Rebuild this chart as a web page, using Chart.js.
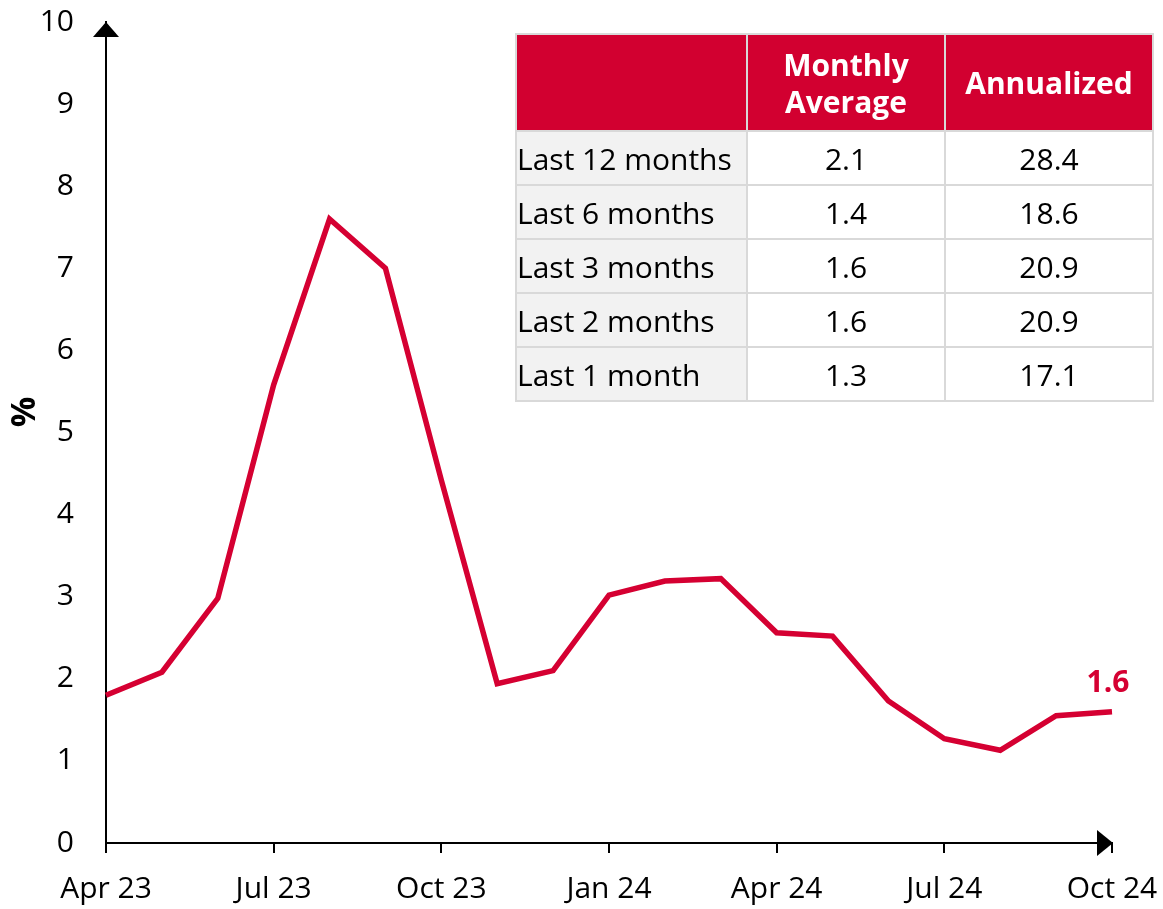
<!DOCTYPE html>
<html>
<head>
<meta charset="utf-8">
<script src="https://cdn.jsdelivr.net/npm/chart.js@4"></script>
<style>
  body { margin: 0; background: #fff; font-family: "Open Sans", sans-serif; }
  #wrap { position: relative; width: 1163px; height: 909px; }
  #stats {
    position: absolute; left: 515px; top: 33px; width: 637px;
    border-collapse: collapse; table-layout: fixed; font-size: 30px; color: #000;
  }
  #stats td, #stats th { border: 2px solid #d9d9d9; padding: 0; }
  #stats th { background: #d20030; color: #fff; font-weight: 700; height: 95px; line-height: 37px; }
  #stats td { height: 52px; text-align: center; background: #fff; }
  #stats td.lbl { text-align: left; background: #f2f2f2; padding-left: 0; }
</style>
</head>
<body>
<div id="wrap">
  <canvas id="cpiChart"></canvas>
  <table id="stats">
    <colgroup><col style="width:231px"><col style="width:198px"><col style="width:208px"></colgroup>
    <thead><tr id="headRow"></tr></thead>
    <tbody id="statsBody"></tbody>
  </table>
</div>
<script>
const months = ["Apr 23", "May 23", "Jun 23", "Jul 23", "Aug 23", "Sep 23", "Oct 23", "Nov 23", "Dec 23",
  "Jan 24", "Feb 24", "Mar 24", "Apr 24", "May 24", "Jun 24", "Jul 24", "Aug 24", "Sep 24", "Oct 24"];
const monthlyRate = [1.80, 2.08, 2.98, 5.58, 7.60, 7.00, 4.42, 1.94, 2.10,
  3.02, 3.19, 3.22, 2.56, 2.52, 1.73, 1.27, 1.13, 1.55, 1.60];
const yTicks = [0, 1, 2, 3, 4, 5, 6, 7, 8, 9, 10];
const lastLabel = "1.6";

// table data
const tableHeaders = ["", "Monthly<br>Average", "Annualized"];
const periods = ["Last 12 months", "Last 6 months", "Last 3 months", "Last 2 months", "Last 1 month"];
const monthlyAvg = ["2.1", "1.4", "1.6", "1.6", "1.3"];
const annualized = ["28.4", "18.6", "20.9", "20.9", "17.1"];

const red = "#d50032";
const font = "'Open Sans', sans-serif";

document.getElementById("headRow").innerHTML = tableHeaders.map(h => `<th>${h}</th>`).join("");
document.getElementById("statsBody").innerHTML = periods.map((p, i) =>
  `<tr><td class="lbl">${p}</td><td>${monthlyAvg[i]}</td><td>${annualized[i]}</td></tr>`).join("");

// arrows on axes, % title and end label
const extras = {
  id: "extras",
  afterDraw(chart) {
    const c = chart.ctx;
    const a = chart.chartArea;
    c.save();
    c.fillStyle = "#000";
    c.beginPath();
    c.moveTo(a.left, a.top);
    c.lineTo(a.left - 13, a.top + 15);
    c.lineTo(a.left + 13, a.top + 15);
    c.closePath();
    c.fill();
    c.beginPath();
    c.moveTo(a.right + 1, a.bottom);
    c.lineTo(a.right - 15, a.bottom - 13);
    c.lineTo(a.right - 15, a.bottom + 13);
    c.closePath();
    c.fill();

    c.translate(25, 412);
    c.rotate(-Math.PI / 2);
    c.font = "bold 34px " + font;
    c.textAlign = "center";
    c.textBaseline = "middle";
    c.fillText("%", 0, 0);
    c.restore();

    const pts = chart.getDatasetMeta(0).data;
    const last = pts[pts.length - 1];
    c.save();
    c.fillStyle = red;
    c.font = "bold 30px " + font;
    c.textAlign = "center";
    c.textBaseline = "alphabetic";
    c.fillText(lastLabel, last.x - 4, last.y - 20);
    c.restore();
  }
};

new Chart(document.getElementById("cpiChart"), {
  type: "line",
  data: {
    labels: months,
    datasets: [{
      data: monthlyRate,
      borderColor: red,
      borderWidth: 5.5,
      pointRadius: 0,
      tension: 0,
      fill: false
    }]
  },
  options: {
    responsive: true,
    maintainAspectRatio: false,
    animation: false,
    layout: { padding: { top: 22, right: 51, left: 0, bottom: 0 } },
    plugins: { legend: { display: false }, tooltip: { enabled: false } },
    scales: {
      x: {
        afterFit: s => { s.height = 66; s.paddingLeft = 0; s.paddingRight = 0; },
        border: { display: true, color: "#000", width: 2 },
        grid: {
          display: true,
          drawOnChartArea: false,
          drawTicks: true,
          tickLength: 10,
          lineWidth: 2,
          color: ctx => (ctx.index % 3 === 0 ? "#000" : "rgba(0,0,0,0)")
        },
        ticks: {
          autoSkip: false,
          maxRotation: 0,
          padding: 18,
          color: "#000",
          font: { family: font, size: 30 },
          callback: (v, i) => (i % 3 === 0 ? months[i] : "")
        }
      },
      y: {
        min: 0,
        max: 10,
        afterFit: s => { s.width = 106; s.paddingTop = 0; s.paddingBottom = 0; },
        afterBuildTicks: s => { s.ticks = yTicks.map(v => ({ value: v })); },
        border: { display: true, color: "#000", width: 2 },
        grid: { display: true, drawOnChartArea: false, drawTicks: false },
        ticks: {
          padding: 32,
          color: "#000",
          font: { family: font, size: 30 }
        }
      }
    }
  },
  plugins: [extras]
});
</script>
</body>
</html>
